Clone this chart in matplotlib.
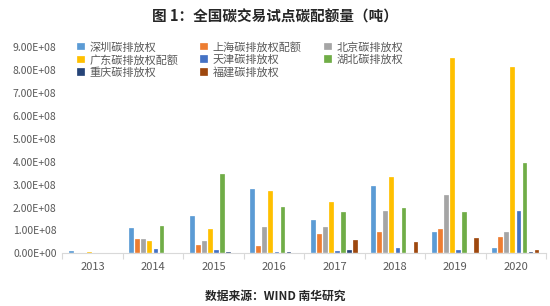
import numpy as np
import matplotlib
matplotlib.use('Agg')
from matplotlib import pyplot as plt
from matplotlib.ticker import FuncFormatter, FixedLocator

plt.rcParams['font.family'] = ['Noto Sans CJK SC', 'DejaVu Sans']

years = ['2013', '2014', '2015', '2016', '2017', '2018', '2019', '2020']
names = ['深圳碳排放权', '上海碳排放权配额', '北京碳排放权', '广东碳排放权配额',
         '天津碳排放权', '湖北碳排放权', '重庆碳排放权', '福建碳排放权']
colors = ['#5B9BD5', '#ED7D31', '#A5A5A5', '#FFC000',
          '#4472C4', '#70AD47', '#264478', '#9E480E']

# 单位：亿吨 (1e8)
shenzhen = [0.10, 1.11, 1.65, 2.81, 1.45, 2.93, 0.92, 0.24]
shanghai = [0.00, 0.63, 0.36, 0.31, 0.84, 0.95, 1.07, 0.73]
beijing = [0.00, 0.63, 0.55, 1.16, 1.17, 1.85, 2.54, 0.95]
guangdong = [0.07, 0.55, 1.07, 2.72, 2.25, 3.33, 8.51, 8.14]
tianjin = [0.00, 0.20, 0.15, 0.04, 0.10, 0.22, 0.15, 1.85]
hubei = [0.00, 1.20, 3.45, 2.04, 1.81, 1.97, 1.81, 3.96]
chongqing = [0.00, 0.00, 0.06, 0.04, 0.15, 0.00, 0.00, 0.05]
fujian = [0.00, 0.00, 0.00, 0.00, 0.59, 0.50, 0.68, 0.15]

series = [shenzhen, shanghai, beijing, guangdong, tianjin, hubei, chongqing, fujian]

fig = plt.figure(figsize=(5.5, 3.06), dpi=100)
ax = fig.add_axes([0.113, 0.172, 0.880, 0.674])

x = np.arange(len(years))
step = 0.1
width = 0.08
bars = []
for i, (vals, name, c) in enumerate(zip(series, names, colors)):
    off = (i - 3.5) * step
    b = ax.bar(x + off, np.array(vals) * 1e8, width=width, color=c, label=name,
               edgecolor='white', linewidth=0.2)
    bars.append(b)

ax.set_xlim(-0.5, len(years) - 0.5)
ax.set_ylim(0, 9e8)
ax.set_yticks(np.arange(0, 10) * 1e8)
ax.yaxis.set_major_formatter(FuncFormatter(lambda v, p: '%.2E' % v))
ax.set_xticks(x)
ax.set_xticklabels(years)
ax.xaxis.set_minor_locator(FixedLocator(np.arange(-0.5, len(years), 1.0)))

for s in ['top', 'right', 'left']:
    ax.spines[s].set_visible(False)
ax.spines['bottom'].set_color('#D9D9D9')
ax.tick_params(axis='y', length=0, labelsize=7.5, labelcolor='#595959', pad=4)
ax.tick_params(axis='x', which='major', length=0, labelsize=8, labelcolor='#595959', pad=6)
ax.tick_params(axis='x', which='minor', length=4, color='#D9D9D9', width=0.8)

# 图例按行排列：matplotlib按列填充，所以重排顺序
order = [0, 3, 6, 1, 4, 7, 2, 5]
ax.legend([bars[i] for i in order], [names[i] for i in order],
          loc='upper left', bbox_to_anchor=(0.01, 1.075), ncol=3, frameon=False,
          fontsize=8, handlelength=0.7, handleheight=0.7, handletextpad=0.4,
          columnspacing=2.0, labelspacing=0.2, labelcolor='#595959')

fig.text(0.5, 0.945, '图 1：全国碳交易试点碳配额量（吨）', ha='center', va='center',
         fontsize=10.5, fontweight='bold', color='#262626')
fig.text(0.5, 0.03, '数据来源：WIND 南华研究', ha='center', va='center',
         fontsize=8.5, fontweight='bold', color='#262626')

fig.savefig('out.png', dpi=100)
